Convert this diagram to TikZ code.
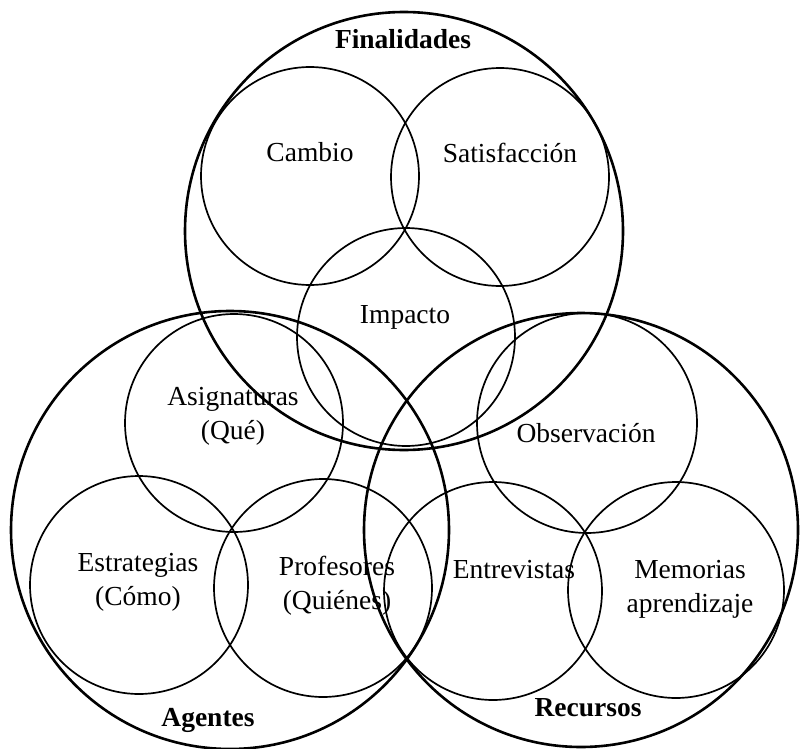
\documentclass[tikz,border=0pt]{standalone}
\usepackage{fontspec}
\setmainfont{Liberation Serif}
\begin{document}
\begin{tikzpicture}[x=1pt,y=-1pt,
  bigc/.style={circle,draw,line width=2.6pt,minimum size=#1,inner sep=0pt},
  smallc/.style={circle,draw,line width=1.7pt,minimum size=#1,inner sep=0pt},
  lbl/.style={align=center,inner sep=0pt,font=\fontsize{27.5}{34}\selectfont},
  blbl/.style={align=center,inner sep=0pt,font=\fontsize{27.5}{34}\selectfont\bfseries}]
\useasboundingbox (0,0) rectangle (800,749);
% big circles
\node[bigc=438pt] (fin) at (404,231) {};
\node[bigc=438pt] (age) at (230,530) {};
\node[bigc=434pt] (rec) at (581,530) {};
% small circles
\node[smallc=218pt] (cam) at (310,176) {};
\node[smallc=218pt] (sat) at (500,177) {};
\node[smallc=218pt] (imp) at (406,337) {};
\node[smallc=218pt] (asi) at (234,423) {};
\node[smallc=218pt] (est) at (139,585) {};
\node[smallc=218pt] (pro) at (323,588) {};
\node[smallc=220pt] (obs) at (587,423) {};
\node[smallc=218pt] (ent) at (493,591) {};
\node[smallc=216pt] (mem) at (676,590) {};
% labels
\node[blbl] (tfin) at (403,39) {Finalidades};
\node[blbl] (tage) at (208,720) {Agentes};
\node[blbl] (trec) at (588,708) {Recursos};
\node[lbl] (tcam) at (310,152) {Cambio};
\node[lbl] (tsat) at (510,153) {Satisfacción};
\node[lbl] (timp) at (405,317) {Impacto};
\node[lbl] (tasi) at (233,416) {Asignaturas\\(Qué)};
\node[lbl] (test) at (138,582) {Estrategias\\(Cómo)};
\node[lbl] (tpro) at (337,586) {Profesores\\(Quiénes)};
\node[lbl] (tobs) at (586,433) {Observación};
\node[lbl] (tent) at (514,570) {Entrevistas};
\node[lbl] (tmem) at (690,589) {Memorias\\aprendizaje};
\end{tikzpicture}
\end{document}
